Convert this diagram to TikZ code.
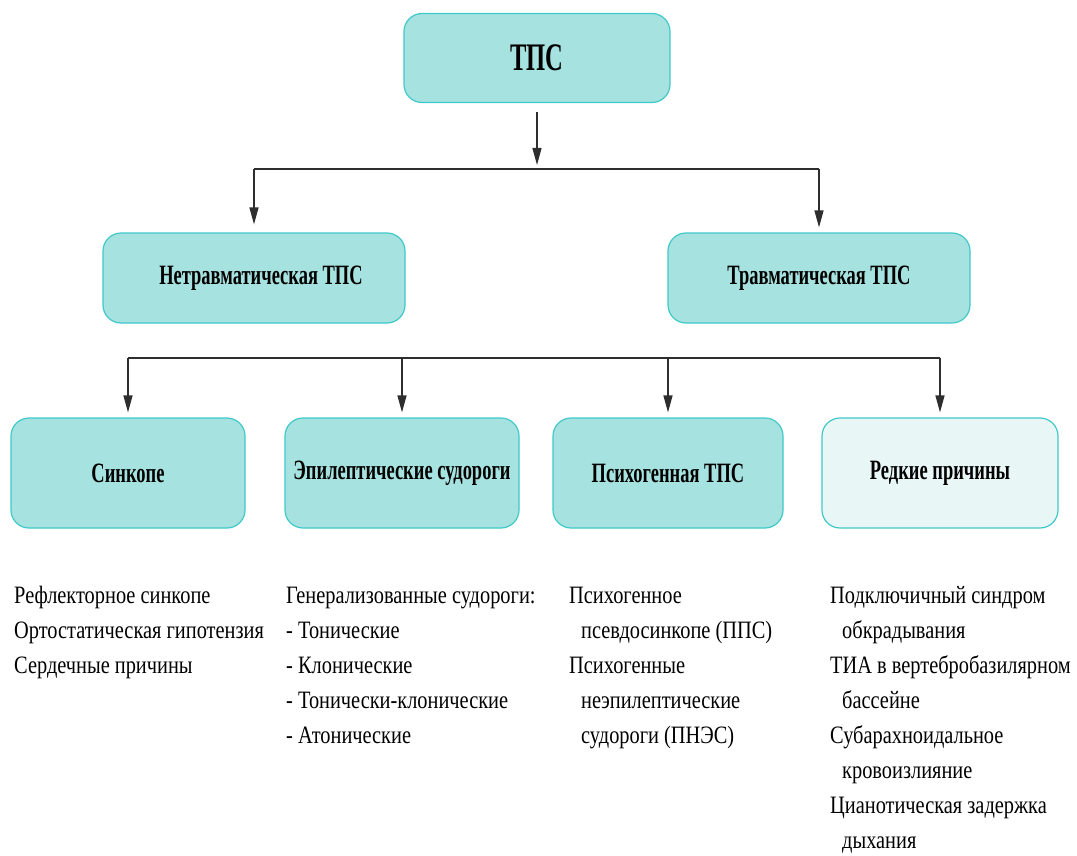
\documentclass[tikz,border=0pt]{standalone}
\usepackage{fontspec}
\setmainfont{Liberation Serif}[FakeStretch=0.815]
\newfontfamily\titlefont{Liberation Serif}[FakeStretch=0.66]
\newfontfamily\headfont{Liberation Serif}[FakeStretch=0.63]
\usetikzlibrary{arrows.meta}
\definecolor{boxfill}{HTML}{A6E2DF}
\definecolor{boxline}{HTML}{3FC9C9}
\definecolor{rarefill}{HTML}{E9F6F6}
\definecolor{linecol}{HTML}{2E2E2E}
\tikzset{
  catbox/.style={draw=boxline, line width=1.2pt, fill=boxfill, rounded corners=18pt,
    font=\titlefont\fontsize{28}{32}\selectfont\bfseries, inner sep=0pt, align=center},
  arr/.style={draw=linecol, line width=1.3pt, -{Triangle[length=17pt,width=9pt]}},
  link/.style={draw=linecol, line width=1.3pt},
  items/.style={anchor=north west, align=left, inner sep=0pt,
    font=\fontsize{25}{35}\selectfont},
}
\newcommand{\ind}{\hspace*{12pt}}
\begin{document}
\begin{tikzpicture}[x=1pt,y=-1pt]
\useasboundingbox (0,0) rectangle (1077,856);
% top level
\node[catbox, minimum width=266pt, minimum height=89pt,
  font=\headfont\fontsize{39}{42}\selectfont\bfseries] (tps) at (537,58) {ТПС};
% second level
\node[catbox, minimum width=302pt, minimum height=90pt] (ntps) at (254,278) {\hspace*{14pt}Нетравматическая ТПС};
\node[catbox, minimum width=302pt, minimum height=90pt] (ttps) at (819,278) {Травматическая ТПС};
% third level
\node[catbox, minimum width=234pt, minimum height=110pt] (sync) at (128,473) {Синкопе};
\node[catbox, minimum width=234pt, minimum height=110pt] (epi) at (402,473) {Эпилептические судороги};
\node[catbox, minimum width=230pt, minimum height=110pt] (psy) at (668,473) {Психогенная ТПС};
\node[catbox, fill=rarefill, minimum width=236pt, minimum height=110pt] (rare) at (940,473) {Редкие причины};
% branching points
\coordinate (j1) at (537,169);
\coordinate (j1l) at (ntps.north |- j1);
\coordinate (j1r) at (ttps.north |- j1);
\coordinate (j2) at (ntps.south |- 0,358);
\coordinate (j2a) at (sync.north |- j2);
\coordinate (j2d) at (rare.north |- j2);
\draw[arr, shorten <=9pt, shorten >=4pt] (tps.south) -- (j1);
\draw[link] (j1l) -- (j1r);
\draw[arr, shorten >=8pt] (j1l) -- (ntps.north);
\draw[arr, shorten >=5pt] (j1r) -- (ttps.north);
\draw[link] (j2a) -- (j2d);
\draw[arr, shorten >=5pt] (j2a) -- (sync.north);
\draw[arr, shorten >=5pt] (epi.north |- j2) -- (epi.north);
\draw[arr, shorten >=5pt] (psy.north |- j2) -- (psy.north);
\draw[arr, shorten >=5pt] (j2d) -- (rare.north);
% item lists (first baseline at y = 603.5)
\node[items] (l1) at (14,579) {\strut Рефлекторное синкопе\\Ортостатическая гипотензия\\Сердечные причины};
\node[items] (l2) at (286,579) {\strut Генерализованные судороги:\\- Тонические\\- Клонические\\- Тонически-клонические\\- Атонические};
\node[items] (l3) at (569,579) {\strut Психогенное\\\ind псевдосинкопе (ППС)\\Психогенные\\\ind неэпилептические\\\ind судороги (ПНЭС)};
\node[items] (l4) at (830,579) {\strut Подключичный синдром\\\ind обкрадывания\\ТИА в вертебробазилярном\\\ind бассейне\\Субарахноидальное\\\ind кровоизлияние\\Цианотическая задержка\\\ind дыхания};
\end{tikzpicture}
\end{document}
